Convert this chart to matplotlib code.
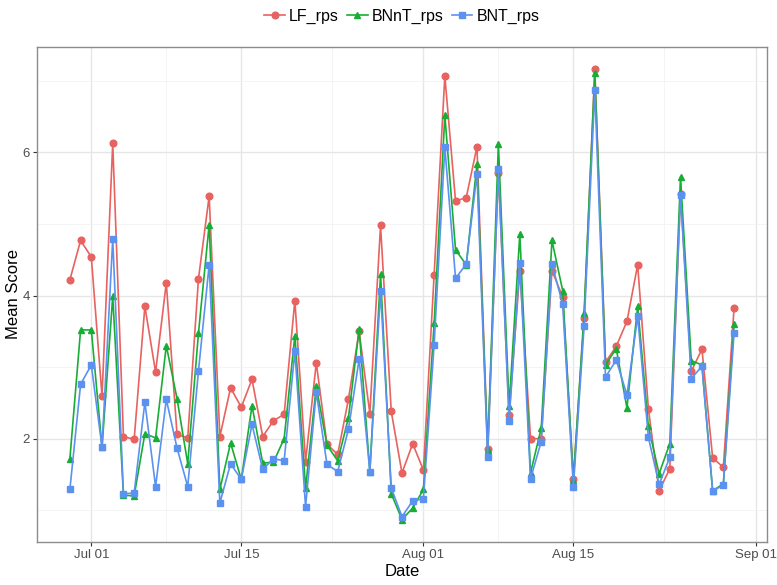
import numpy as np
import pandas as pd
import matplotlib
matplotlib.use('Agg')
import matplotlib.pyplot as plt
import matplotlib.dates as mdates
from matplotlib.ticker import FixedLocator

# daily scores, 2016-06-29 .. 2016-08-30
dates = pd.date_range('2016-06-29', '2016-08-30', freq='D')

lf_rps = [4.22, 4.77, 4.54, 2.59, 6.13, 2.03, 1.99, 3.85, 2.93, 4.18,
          2.06, 2.01, 4.23, 5.39, 2.03, 2.71, 2.44, 2.83, 2.03, 2.25,
          2.34, 3.93, 1.68, 3.06, 1.92, 1.78, 2.55, 3.50, 2.35, 4.98,
          2.38, 1.52, 1.93, 1.56, 4.29, 7.07, 5.32, 5.37, 6.08, 1.86,
          5.71, 2.33, 4.35, 2.00, 2.00, 4.35, 3.98, 1.44, 3.68, 7.16,
          3.07, 3.29, 3.64, 4.43, 2.42, 1.27, 1.58, 5.42, 2.94, 3.25,
          1.73, 1.60, 3.83]
bnnt_rps = [1.72, 3.52, 3.52, 1.88, 3.99, 1.21, 1.20, 2.07, 2.01, 3.30,
            2.56, 1.65, 3.47, 4.99, 1.29, 1.94, 1.43, 2.46, 1.66, 1.67,
            2.00, 3.44, 1.31, 2.73, 1.91, 1.69, 2.29, 3.53, 1.54, 4.30,
            1.23, 0.87, 1.03, 1.29, 3.61, 6.52, 4.64, 4.43, 5.84, 1.84,
            6.12, 2.45, 4.86, 1.52, 2.15, 4.77, 4.07, 1.42, 3.76, 7.11,
            3.03, 3.26, 2.43, 3.85, 2.17, 1.51, 1.93, 5.66, 3.09, 3.03,
            1.27, 1.37, 3.60]
bnt_rps = [1.29, 2.76, 3.03, 1.88, 4.79, 1.23, 1.24, 2.51, 1.33, 2.55,
           1.87, 1.33, 2.94, 4.43, 1.10, 1.65, 1.43, 2.20, 1.57, 1.72,
           1.69, 3.22, 1.05, 2.65, 1.64, 1.54, 2.13, 3.11, 1.54, 4.06,
           1.31, 0.91, 1.13, 1.16, 3.31, 6.07, 4.24, 4.44, 5.70, 1.75,
           5.77, 2.25, 4.46, 1.44, 1.96, 4.44, 3.88, 1.33, 3.57, 6.87,
           2.86, 3.10, 2.61, 3.71, 2.02, 1.36, 1.74, 5.41, 2.84, 3.01,
           1.27, 1.35, 3.48]

series = [('LF_rps', lf_rps, '#E8625F', 'o'),
          ('BNnT_rps', bnnt_rps, '#18AD35', '^'),
          ('BNT_rps', bnt_rps, '#5B92F0', 's')]

plt.rcParams['font.family'] = ['Liberation Sans', 'DejaVu Sans']

fig = plt.figure(figsize=(7.77, 5.85), dpi=100)
ax = fig.add_axes([0.0472, 0.0735, 0.9403, 0.8462])

for name, vals, col, mk in series:
    ax.plot(dates, vals, color=col, marker=mk, markersize=4.8, linewidth=1.2,
            label=name)

# ggplot-like 5% expansion
x0 = mdates.date2num(dates[0])
x1 = mdates.date2num(dates[-1])
dx = (x1 - x0) * 0.05
ax.set_xlim(x0 - dx, x1 + dx)
allv = np.concatenate([lf_rps, bnnt_rps, bnt_rps])
dy = (allv.max() - allv.min()) * 0.05
ax.set_ylim(allv.min() - dy, allv.max() + dy)

major_x = [mdates.datestr2num(d) for d in ['2016-07-01', '2016-07-15', '2016-08-01', '2016-08-15', '2016-09-01']]
minor_x = [(a + b) / 2 for a, b in zip(major_x[:-1], major_x[1:])]
minor_x = [major_x[0] - (major_x[1] - major_x[0]) / 2] + minor_x
ax.xaxis.set_major_locator(FixedLocator(major_x))
ax.xaxis.set_minor_locator(FixedLocator(minor_x))
ax.xaxis.set_major_formatter(mdates.DateFormatter('%b %d'))
ax.yaxis.set_major_locator(FixedLocator([2, 4, 6]))
ax.yaxis.set_minor_locator(FixedLocator([1, 3, 5, 7]))

ax.grid(which='major', color='#E6E6E6', linewidth=1.0)
ax.grid(which='minor', color='#F2F2F2', linewidth=0.6)
ax.set_axisbelow(True)
for s in ax.spines.values():
    s.set_color('#8C8C8C')
    s.set_linewidth(1.0)
ax.tick_params(which='major', length=3, color='#333333', labelsize=9.5,
               labelcolor='#4D4D4D', pad=2)
ax.tick_params(which='minor', length=0)

ax.set_xlabel('Date', fontsize=12, labelpad=2)
ax.set_ylabel('Mean Score', fontsize=12, labelpad=1)

ax.legend(loc='upper center', bbox_to_anchor=(0.5, 1.09), ncol=3, frameon=False,
          fontsize=11.5, handlelength=1.3, handletextpad=0.25, columnspacing=0.5,
          borderaxespad=0)

fig.savefig('out.png', dpi=100)
